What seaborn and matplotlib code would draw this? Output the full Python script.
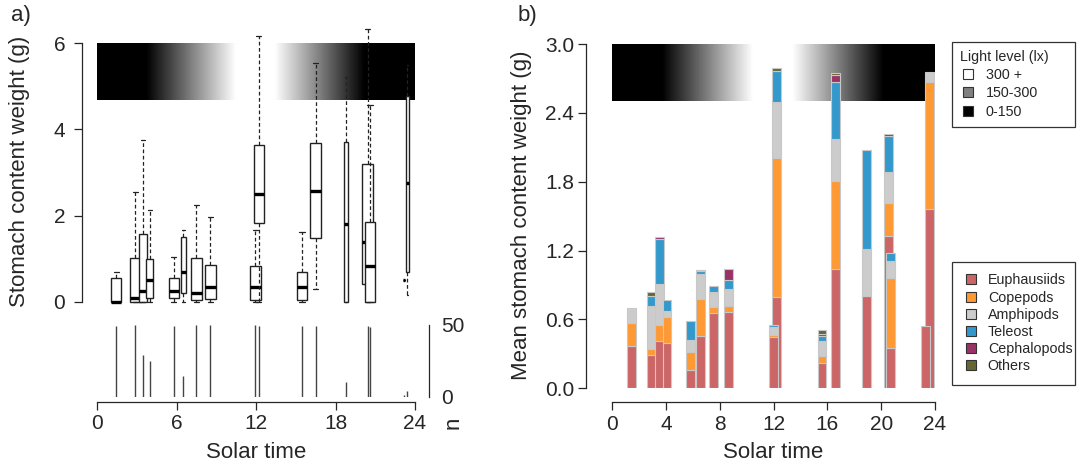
import numpy as np
import matplotlib
matplotlib.use("Agg")
import matplotlib.pyplot as plt
import seaborn as sns
from matplotlib.colors import LinearSegmentedColormap
from matplotlib.lines import Line2D

# ---------------- data ----------------
# panel a: box plots of stomach content weight by solar time
box_time = [1.43, 2.88, 3.44, 3.96, 5.78, 6.51, 7.49, 8.55, 11.94, 12.2,
            15.47, 16.5, 18.78, 20.42, 20.6, 23.18, 23.42]
box_n = [49, 50, 29, 25, 49, 14, 50, 50, 50, 49, 49, 49, 10, 49, 48, 1, 4]
box_whislo = [0, 0, 0, 0, 0, 0, 0, 0, 0, 0, 0, 0.29, 0, 0, 0, 0.51, 0.16]
box_q1 = [0, 0, 0, 0.08, 0.08, 0.2, 0.05, 0.06, 0.03, 1.83, 0.04, 1.48,
          0, 0.41, 0, 0.51, 0.69]
box_med = [0, 0.09, 0.26, 0.5, 0.26, 0.69, 0.21, 0.35, 0.33, 2.5, 0.33, 2.57,
           1.8, 1.39, 0.82, 0.51, 2.76]
box_q3 = [0.54, 1.02, 1.58, 0.98, 0.56, 1.5, 1.02, 0.86, 0.84, 3.65, 0.69,
          3.68, 3.7, 3.2, 1.85, 0.51, 4.77]
box_whishi = [0.7, 2.54, 3.75, 2.13, 1.04, 1.66, 2.24, 1.96, 1.67, 6.17,
              1.62, 5.55, 5.21, 6.33, 4.57, 0.51, 5.5]

# panel b: mean stomach content by prey group (drawing order: taller first)
bar_time = [1.42, 2.91, 3.48, 4.07, 5.84, 6.56, 7.53, 8.62, 12.24, 11.97,
            15.6, 16.59, 18.93, 20.54, 20.72, 23.57, 23.32]
euphausiids = [0.372, 0.288, 0.416, 0.398, 0.163, 0.456, 0.654, 0.663, 0.797,
               0.448, 0.224, 1.041, 0.802, 1.331, 0.349, 1.558, 0.547]
copepods = [0.195, 0.055, 0.139, 0.221, 0.151, 0.323, 0.058, 0.052, 1.212,
            0.017, 0.058, 0.767, 0.006, 0.285, 0.616, 1.114, 0]
amphipods = [0.133, 0.378, 0.352, 0.053, 0.108, 0.221, 0.131, 0.154, 0.488,
             0.073, 0.131, 0.361, 0.404, 0.271, 0.14, 0.084, 0]
teleost = [0, 0.087, 0.393, 0.095, 0.168, 0.023, 0.052, 0.079, 0.27, 0.014,
           0.04, 0.503, 0.864, 0.311, 0.075, 0, 0]
cephalopods = [0, 0, 0.017, 0, 0, 0.006, 0, 0.093, 0, 0, 0.024, 0.055, 0,
               0.02, 0, 0, 0]
others = [0, 0.029, 0, 0, 0, 0, 0, 0, 0.02, 0, 0.029, 0.023, 0, 0, 0, 0, 0]

prey_names = ["Euphausiids", "Copepods", "Amphipods", "Teleost",
              "Cephalopods", "Others"]
prey_colors = ["#CC6666", "#FF9933", "#CCCCCC", "#3399CC", "#993366",
               "#666633"]

# light-level band (0 = dark, 1 = bright)
light_hours = [0, 3.7, 10.45, 13.45, 20.2, 24]
light_level = [0, 0, 1, 1, 0, 0]
light_names = ["300 +", "150-300", "0-150"]
light_colors = ["white", "#808080", "black"]

ticks_a_x = [0, 6, 12, 18, 24]
ticks_a_y = [0, 2, 4, 6]
ticks_b_x = [0, 4, 8, 12, 16, 20, 24]
ticks_b_y = [0.0, 0.6, 1.2, 1.8, 2.4, 3.0]

# ---------------- style ----------------
sns.set_style("ticks")
plt.rcParams["font.family"] = ["Liberation Sans", "DejaVu Sans"]
plt.rcParams["axes.linewidth"] = 0.9
plt.rcParams["xtick.major.width"] = 0.9
plt.rcParams["ytick.major.width"] = 0.9

W, H = 1080, 467
fig = plt.figure(figsize=(W / 100, H / 100), dpi=100)


def px_axes(x0, ytop, x1, ybot):
    return fig.add_axes([x0 / W, 1 - ybot / H, (x1 - x0) / W, (ybot - ytop) / H])


FS = 15
LFS = 16
cmap = LinearSegmentedColormap.from_list(
    "light", [(h / 24, (v, v, v)) for h, v in zip(light_hours, light_level)])
grad = np.linspace(0, 1, 600).reshape(1, -1)

# ---------------- panel a ----------------
ax_a = px_axes(97.3, 43.3, 415, 301.7)
ax_a.imshow(grad, cmap=cmap, vmin=0, vmax=1, extent=[0, 24, 4.68, 6.0],
            aspect="auto", zorder=0, interpolation="bilinear")
for i in range(len(box_time)):
    w = 0.8 * np.sqrt(box_n[i] / 50)
    st = dict(whislo=box_whislo[i], q1=box_q1[i], med=box_med[i],
              q3=box_q3[i], whishi=box_whishi[i], fliers=[])
    arts = ax_a.bxp([st], positions=[box_time[i]], widths=[w],
                    capwidths=[0.5 * w], patch_artist=True,
                    showfliers=False, manage_ticks=False, zorder=3 + i,
                    boxprops=dict(facecolor="white", edgecolor="#222222",
                                  linewidth=1.0),
                    medianprops=dict(color="black", linewidth=2.4,
                                     solid_capstyle="butt"),
                    whiskerprops=dict(color="#222222", linewidth=0.9,
                                      linestyle=(0, (3, 2))),
                    capprops=dict(color="#222222", linewidth=0.9))
    for k in arts:
        for a in arts[k]:
            a.set_clip_on(False)
ax_a.set_xlim(0, 24)
ax_a.set_ylim(0, 6)
ax_a.set_yticks(ticks_a_y)
ax_a.set_yticklabels([str(t) for t in ticks_a_y])
ax_a.set_xticks([])
ax_a.tick_params(axis="y", labelsize=FS, length=6, pad=6)
sns.despine(ax=ax_a, bottom=True, offset={"left": 11})

# n panel
ax_n = px_axes(97.3, 324.5, 415, 396.5)
ax_n.vlines(box_time, 0, box_n, color="#444444", linewidth=1.0)
ax_n.set_xlim(0, 24)
ax_n.set_ylim(0, 50)
ax_n.set_xticks(ticks_a_x)
ax_n.set_yticks([0, 50])
ax_n.yaxis.tick_right()
ax_n.tick_params(axis="both", labelsize=FS, length=6, pad=3)
sns.despine(ax=ax_n, left=True, right=False, offset={"right": 10, "bottom": 3.6})
ax_n.spines["bottom"].set_bounds(0, 24)
ax_n.spines["right"].set_bounds(0, 50)

# ---------------- panel b ----------------
ax_b = px_axes(612.3, 44, 935, 388.3)
ax_b.imshow(grad, cmap=cmap, vmin=0, vmax=1, extent=[0, 24, 2.5, 3.0],
            aspect="auto", zorder=0, interpolation="bilinear")
bottoms = np.zeros(len(bar_time))
series = [euphausiids, copepods, amphipods, teleost, cephalopods, others]
for vals, col in zip(series, prey_colors):
    vals = np.asarray(vals, dtype=float)
    for j in range(len(bar_time)):
        if vals[j] > 0:
            ax_b.bar(bar_time[j], vals[j], bottom=bottoms[j], width=0.66,
                     color=col, edgecolor="#c8c8c8", linewidth=0.8,
                     zorder=2 + (j if j in (9, 14, 16) else 0) * 0.01 + 0.001 * j)
    bottoms += vals
ax_b.set_xlim(0, 24)
ax_b.set_ylim(0, 3.0)
ax_b.set_xticks(ticks_b_x)
ax_b.set_yticks(ticks_b_y)
ax_b.set_yticklabels([f"{t:.1f}" for t in ticks_b_y])
ax_b.tick_params(axis="x", labelsize=FS, length=6, pad=3)
ax_b.tick_params(axis="y", labelsize=FS, length=6, pad=2.5)
sns.despine(ax=ax_b, offset={"left": 19, "bottom": 10})

# ---------------- text ----------------
fig.text(21 / W, 1 - 16 / H, "a)", fontsize=LFS, ha="center", va="center")
fig.text(527 / W, 1 - 16 / H, "b)", fontsize=LFS, ha="center", va="center")
fig.text(20 / W, 1 - 171 / H, "Stomach content weight (g)", fontsize=LFS,
         rotation=90, ha="center", va="center")
fig.text(522 / W, 1 - 215 / H, "Mean stomach content weight (g)", fontsize=LFS,
         rotation=90, ha="center", va="center")
fig.text(256 / W, 1 - 453 / H, "Solar time", fontsize=LFS, ha="center",
         va="center")
fig.text(773 / W, 1 - 453 / H, "Solar time", fontsize=LFS, ha="center",
         va="center")
fig.text(453 / W, 1 - 423 / H, "n", fontsize=LFS, rotation=90, ha="center",
         va="center")

# ---------------- legends ----------------
h1 = [Line2D([], [], marker="s", linestyle="none", markersize=7,
             markerfacecolor=c, markeredgecolor="#333333", markeredgewidth=0.8)
      for c in light_colors]
leg1 = fig.legend(h1, light_names, title="Light level (lx)", loc="upper left",
                  bbox_to_anchor=(952 / W, 1 - 42 / H - 0.01, 123 / W, 0.01),
                  mode="expand", borderaxespad=0, fontsize=10.3,
                  title_fontsize=10.3, frameon=True, fancybox=False,
                  edgecolor="black", handletextpad=0.7, labelspacing=0.3,
                  borderpad=0.55, alignment="left", handlelength=1.1)
leg1.get_frame().set_linewidth(0.9)
h2 = [Line2D([], [], marker="s", linestyle="none", markersize=7,
             markerfacecolor=c, markeredgecolor="#333333", markeredgewidth=0.8)
      for c in prey_colors]
leg2 = fig.legend(h2, prey_names, loc="upper left",
                  bbox_to_anchor=(952 / W, 1 - 262 / H - 0.01, 123 / W, 0.01),
                  mode="expand", borderaxespad=0, fontsize=10.3, frameon=True,
                  fancybox=False, edgecolor="black", handletextpad=0.6,
                  labelspacing=0.22, borderpad=0.8, handlelength=1.1)
leg2.get_frame().set_linewidth(0.9)

fig.savefig("out.png", dpi=100)
